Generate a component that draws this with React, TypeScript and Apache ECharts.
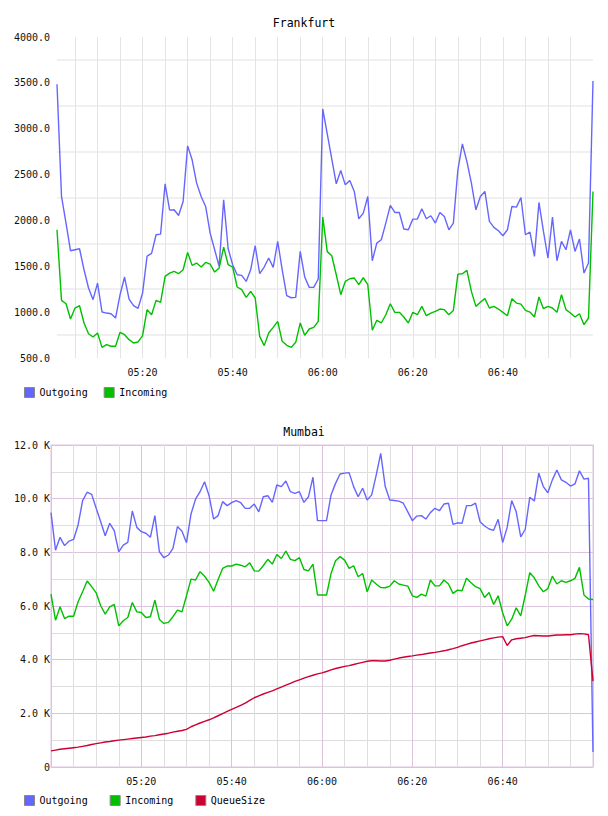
import React, { useEffect, useRef } from 'react';
import * as echarts from 'echarts';

// ---------- categories (minute stamps) ----------
function makeTimes(startMin: number, endMin: number): string[] {
  const out: string[] = [];
  for (let m = startMin; m <= endMin; m++) {
    const h = Math.floor(m / 60);
    const mm = m % 60;
    out.push((h < 10 ? '0' : '') + h + ':' + (mm < 10 ? '0' : '') + mm);
  }
  return out;
}
const frankfurtTimes = makeTimes(301, 420); // 05:01 .. 07:00
const mumbaiTimes = makeTimes(300, 420); // 05:00 .. 07:00

// ---------- Frankfurt ----------
const frankfurtOutgoing = [
  3485, 2261, 1971, 1669, 1680, 1691, 1462, 1263, 1136, 1317,
  1001, 990, 983, 936, 1190, 1383, 1143, 1070, 1041, 1208,
  1610, 1640, 1844, 1851, 2399, 2112, 2116, 2054, 2207, 2813,
  2661, 2407, 2261, 2152, 1862, 1680, 1499, 2225, 1691, 1517,
  1408, 1401, 1335, 1462, 1724, 1419, 1492, 1590, 1488, 1771,
  1462, 1179, 1157, 1161, 1662, 1383, 1270, 1270, 1361, 3216,
  2944, 2672, 2399, 2545, 2388, 2436, 2316, 2018, 2080, 2261,
  1560, 1753, 1789, 1971, 2163, 2087, 2087, 1906, 1898, 2014,
  2014, 2127, 2018, 2051, 1971, 2087, 2043, 1898, 1971, 2552,
  2835, 2643, 2407, 2116, 2261, 2316, 1989, 1924, 1887, 1833,
  1898, 2152, 2145, 2250, 1844, 1873, 1608, 2196, 1880, 1590,
  2036, 1560, 1771, 1680, 1898, 1662, 1797, 1426, 1535, 3521,
];
const frankfurtIncoming = [
  1898, 1128, 1092, 925, 1045, 1070, 882, 765, 729, 773,
  616, 646, 628, 628, 780, 754, 700, 664, 675, 744,
  1027, 972, 1128, 1107, 1390, 1426, 1444, 1419, 1462, 1651,
  1510, 1535, 1492, 1542, 1524, 1437, 1481, 1709, 1517, 1492,
  1274, 1245, 1161, 1226, 1154, 736, 635, 773, 834, 900,
  682, 638, 616, 671, 882, 747, 816, 834, 900, 2036,
  1660, 1615, 1408, 1190, 1335, 1364, 1372, 1299, 1375, 1299,
  802, 911, 882, 972, 1092, 998, 998, 947, 882, 998,
  972, 1063, 961, 990, 1009, 1034, 1027, 972, 1019, 1415,
  1419, 1455, 1226, 1063, 1107, 1147, 1045, 1063, 1034, 998,
  961, 1147, 1099, 1088, 1019, 1001, 947, 1165, 1038, 1063,
  1045, 998, 1190, 1027, 990, 947, 983, 863, 936, 2316,
];

// ---------- Mumbai ----------
const mumbaiOutgoing = [
  9480, 8080, 8560, 8250, 8420, 8480, 9020, 9930, 10240, 10160,
  9640, 9140, 8620, 9080, 8810, 8020, 8270, 8370, 9540, 8930,
  8770, 8710, 8560, 9370, 8020, 7800, 7900, 8150, 8960, 8790,
  8360, 9430, 9980, 10260, 10630, 10110, 9240, 9370, 9890, 9740,
  9850, 9930, 9850, 9640, 9640, 9800, 9510, 10070, 10110, 9860,
  10510, 10450, 10660, 10260, 10200, 10260, 9860, 10070, 10800, 9180,
  9180, 9180, 10140, 10570, 10920, 10950, 10970, 10450, 10070, 10390,
  9950, 10140, 10880, 11690, 10450, 9950, 9930, 9910, 9830, 9510,
  9180, 9350, 9370, 9240, 9480, 9640, 9550, 9800, 9830, 9040,
  9100, 9080, 9740, 9740, 9830, 9140, 8980, 8870, 8820, 9230,
  8360, 8930, 9930, 9510, 8580, 8860, 10050, 9910, 10950, 10450,
  10220, 10700, 11070, 10700, 10610, 10470, 10550, 11040, 10730, 10760,
  560,
];
const mumbaiIncoming = [
  6440, 5470, 5970, 5530, 5620, 5620, 6160, 6530, 6930, 6720,
  6490, 6010, 5700, 5970, 6060, 5260, 5450, 5570, 6130, 5780,
  5760, 5570, 5600, 6220, 5500, 5350, 5390, 5600, 5850, 5780,
  6380, 7000, 6970, 7280, 7110, 6880, 6550, 6990, 7400, 7490,
  7490, 7560, 7520, 7460, 7610, 7310, 7300, 7500, 7740, 7560,
  7920, 7770, 8050, 7740, 7690, 7800, 7360, 7310, 7560, 6410,
  6410, 6410, 7210, 7690, 7840, 7710, 7400, 7500, 7090, 7210,
  6530, 6970, 6820, 6690, 6680, 6740, 6940, 6820, 6780, 6740,
  6380, 6320, 6440, 6370, 6970, 6750, 6750, 6970, 6820, 6470,
  6590, 6570, 7030, 6870, 6720, 6650, 6320, 6500, 6060, 6380,
  5750, 5260, 5510, 5930, 5630, 6400, 7240, 7050, 6750, 6530,
  6650, 7110, 6820, 6940, 6880, 6940, 7030, 7440, 6410, 6260,
  6240,
];
const mumbaiQueueSize = [
  600, 630, 660, 680, 700, 720, 740, 770, 800, 840,
  870, 900, 930, 950, 980, 1000, 1020, 1040, 1060, 1080,
  1100, 1120, 1150, 1170, 1200, 1230, 1260, 1300, 1330, 1360,
  1400, 1500, 1570, 1640, 1700, 1760, 1830, 1910, 1990, 2070,
  2150, 2220, 2300, 2380, 2480, 2580, 2650, 2720, 2780, 2840,
  2910, 2980, 3050, 3120, 3190, 3250, 3310, 3370, 3420, 3470,
  3510, 3560, 3620, 3670, 3710, 3750, 3780, 3820, 3860, 3900,
  3940, 3960, 3960, 3950, 3950, 3980, 4020, 4060, 4090, 4120,
  4140, 4170, 4190, 4220, 4250, 4270, 4300, 4330, 4370, 4410,
  4460, 4520, 4570, 4620, 4660, 4700, 4740, 4780, 4810, 4840,
  4860, 4530, 4740, 4780, 4800, 4820, 4870, 4900, 4890, 4880,
  4880, 4900, 4920, 4920, 4930, 4930, 4950, 4970, 4960, 4930,
  3200,
];

const frankfurtYTicks = { min: 500, max: 4000, step: 500 };
const mumbaiYTicks = { min: 0, max: 12000, step: 2000 };

const BLUE = '#6666ff';
const GREEN = '#00c000';
const RED = '#cc0033';
const MONO = "'DejaVu Sans Mono', 'Liberation Mono', monospace";

const minuteOf = (v: string) => parseInt(v.slice(3), 10);

export default function App() {
  const ref = useRef<HTMLDivElement>(null);

  useEffect(() => {
    if (!ref.current) return;
    const chart = echarts.init(ref.current, undefined, { renderer: 'svg' });
    const fLast = frankfurtTimes.length - 1;
    const mLast = mumbaiTimes.length - 1;

    const labelStyle = { fontFamily: MONO, fontSize: 10, color: '#111' };

    chart.setOption({
      animation: false,
      textStyle: { fontFamily: MONO },
      title: [
        {
          text: 'Frankfurt', left: 'center', top: 12,
          textStyle: { fontFamily: MONO, fontSize: 11.5, fontWeight: 'normal', color: '#000' },
        },
        {
          text: 'Mumbai', left: 'center', top: 421,
          textStyle: { fontFamily: MONO, fontSize: 11.5, fontWeight: 'normal', color: '#000' },
        },
      ],
      legend: [
        {
          data: ['Outgoing', 'Incoming'], left: 24, top: 387, padding: 0,
          icon: 'rect', itemWidth: 10, itemHeight: 10, itemGap: 16,
          itemStyle: { borderColor: '#888', borderWidth: 1 },
          textStyle: { ...labelStyle, color: '#000' },
        },
        {
          data: ['Outgoing', 'Incoming', 'QueueSize'], left: 24, top: 795, padding: 0,
          icon: 'rect', itemWidth: 10, itemHeight: 10, itemGap: 22,
          itemStyle: { borderColor: '#888', borderWidth: 1 },
          textStyle: { ...labelStyle, color: '#000' },
        },
      ],
      grid: [
        { left: 57, top: 37, width: 536, height: 321 },
        { left: 51, top: 445, width: 542, height: 322, show: true, borderColor: '#ead8ee', borderWidth: 1.5 },
      ],
      xAxis: [
        {
          type: 'category', gridIndex: 0, data: frankfurtTimes, boundaryGap: false,
          axisLine: { show: false }, axisTick: { show: false },
          axisLabel: {
            ...labelStyle, margin: 9,
            interval: (i: number, v: string) => i !== 0 && i !== fLast && minuteOf(v) % 20 === 0,
          },
          splitLine: {
            show: true,
            interval: (i: number, v: string) => i !== fLast && minuteOf(v) % 5 === 0,
            lineStyle: { color: '#e4e4e4', width: 1 },
          },
        },
        {
          type: 'category', gridIndex: 1, data: mumbaiTimes, boundaryGap: false,
          axisLine: { show: false }, axisTick: { show: false },
          axisLabel: {
            ...labelStyle, margin: 9,
            interval: (i: number, v: string) => i !== 0 && i !== mLast && minuteOf(v) % 20 === 0,
          },
          splitLine: {
            show: true,
            interval: (i: number, v: string) => minuteOf(v) % 5 === 0,
            lineStyle: { color: ['#dcc2dc', '#dedede', '#dedede', '#dedede'], width: 1 },
          },
        },
      ],
      yAxis: [
        {
          type: 'value', gridIndex: 0,
          min: frankfurtYTicks.min, max: frankfurtYTicks.max, interval: frankfurtYTicks.step / 2,
          axisLine: { show: false }, axisTick: { show: false },
          axisLabel: {
            ...labelStyle, margin: 7,
            formatter: (v: number) => (v % frankfurtYTicks.step === 0 ? v.toFixed(1) : ''),
          },
          splitLine: { show: true, lineStyle: { color: ['rgba(0,0,0,0)', '#f0f0f0'], width: 2 } },
        },
        {
          type: 'value', gridIndex: 1,
          min: mumbaiYTicks.min, max: mumbaiYTicks.max, interval: mumbaiYTicks.step / 2,
          axisLine: { show: false }, axisTick: { show: false },
          axisLabel: {
            ...labelStyle, margin: 1,
            formatter: (v: number) =>
              v === 0 ? '0' : v % mumbaiYTicks.step === 0 ? (v / 1000).toFixed(1) + ' K' : '',
          },
          splitLine: { show: true, lineStyle: { color: ['#dcc2dc', '#dedede'], width: 1 } },
        },
      ],
      series: [
        {
          name: 'Outgoing', type: 'line', xAxisIndex: 0, yAxisIndex: 0, data: frankfurtOutgoing,
          showSymbol: false, lineStyle: { color: BLUE, width: 1.4 }, itemStyle: { color: BLUE },
        },
        {
          name: 'Incoming', type: 'line', xAxisIndex: 0, yAxisIndex: 0, data: frankfurtIncoming,
          showSymbol: false, lineStyle: { color: GREEN, width: 1.4 }, itemStyle: { color: GREEN },
        },
        {
          name: 'Outgoing', type: 'line', xAxisIndex: 1, yAxisIndex: 1, data: mumbaiOutgoing,
          showSymbol: false, lineStyle: { color: BLUE, width: 1.4 }, itemStyle: { color: BLUE },
        },
        {
          name: 'Incoming', type: 'line', xAxisIndex: 1, yAxisIndex: 1, data: mumbaiIncoming,
          showSymbol: false, lineStyle: { color: GREEN, width: 1.4 }, itemStyle: { color: GREEN },
        },
        {
          name: 'QueueSize', type: 'line', xAxisIndex: 1, yAxisIndex: 1, data: mumbaiQueueSize,
          showSymbol: false, lineStyle: { color: RED, width: 1.4 }, itemStyle: { color: RED },
        },
      ],
    });

    return () => chart.dispose();
  }, []);

  return (
    <div
      ref={ref}
      style={{ position: 'absolute', left: 0, top: 0, width: 608, height: 816, background: '#fff' }}
    />
  );
}
